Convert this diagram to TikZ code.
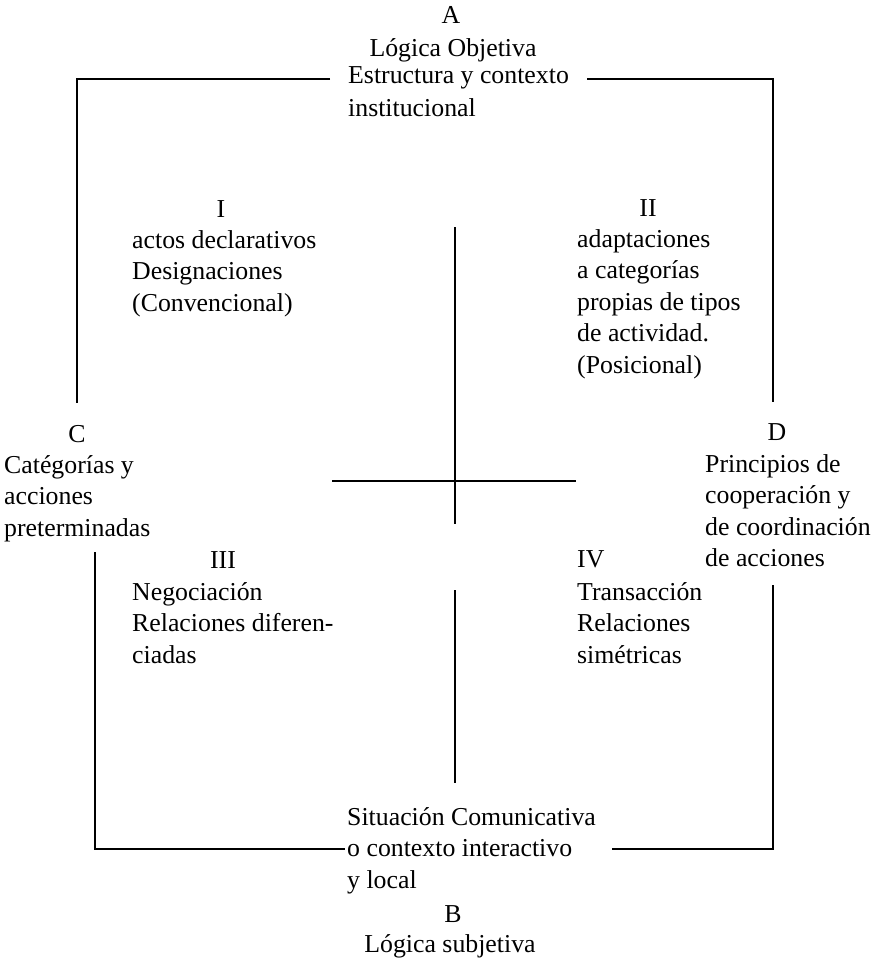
\documentclass[tikz,border=0pt]{standalone}
\usepackage{fontspec}
\setmainfont{Liberation Serif}
\newcommand{\myblk}[1]{\begin{tabular}[t]{@{}l@{}}#1\end{tabular}}
\begin{document}
\begin{tikzpicture}[x=1pt,y=-1pt,
  txt/.style={inner sep=0pt,font=\fontsize{25.8}{31.6}\selectfont},
  ltxt/.style={txt,anchor=base west},
  ctxt/.style={txt,anchor=base},
  ln/.style={line width=1.3pt,black}]
\useasboundingbox (0,0) rectangle (895,960);
% top (A)
\node[ctxt] (Ahead) at (451,24) {A};
\node[ctxt] (Atitle) at (453,57) {Lógica Objetiva};
\node[ltxt] (Atext1) at (348,84) {Estructura y contexto};
\node[ltxt] (Atext2) at (348,117) {institucional};
% quadrant I
\node[ctxt] (Inum) at (221,217) {I};
\node[ltxt] (Itext) at (132,248) {\myblk{actos declarativos\\Designaciones\\(Convencional)}};
% quadrant II
\node[ctxt] (IInum) at (648,216) {II};
\node[ltxt] (IItext) at (577,247) {\myblk{adaptaciones\\a categorías\\propias de tipos\\de actividad.\\(Posicional)}};
% C
\node[ctxt] (Chead) at (77,442) {C};
\node[ltxt] (Ctext) at (4,473) {\myblk{Catégorías y\\acciones\\preterminadas}};
% D
\node[ctxt] (Dhead) at (777,440) {D};
\node[ltxt] (Dtext) at (705,472) {\myblk{Principios de\\cooperación y\\de coordinación\\de acciones}};
% III
\node[ctxt] (IIInum) at (223,568) {III};
\node[ltxt] (IIItext) at (132,600) {\myblk{Negociación\\Relaciones diferen-\\ciadas}};
% IV
\node[ltxt] (IVnum) at (577,567) {IV};
\node[ltxt] (IVtext) at (577,600) {\myblk{Transacción\\Relaciones\\simétricas}};
% bottom (B)
\node[ltxt] (Btext) at (347,825) {\myblk{Situación Comunicativa\\o contexto interactivo\\y local}};
\node[ctxt] (Bhead) at (453,922) {B};
\node[ctxt] (Btitle) at (450,952) {Lógica subjetiva};
% line end points
\coordinate (tl1) at (330,79);
\coordinate (tlc) at (77,79);
\coordinate (tlb) at (77,403);
\coordinate (tr1) at (587,79);
\coordinate (trc) at (773,79);
\coordinate (trb) at (773,402);
\coordinate (cvt) at (455,227);
\coordinate (cvb) at (455,524);
\coordinate (chl) at (332,481);
\coordinate (chr) at (576,481);
\coordinate (lvt) at (455,590);
\coordinate (lvb) at (455,783);
\coordinate (blt) at (95,552);
\coordinate (blc) at (95,849);
\coordinate (bl1) at (345,849);
\coordinate (brt) at (773,585);
\coordinate (brc) at (773,849);
\coordinate (br1) at (612,849);
% lines
\draw[ln] (tl1) -- (tlc) -- (tlb);
\draw[ln] (tr1) -- (trc) -- (trb);
\draw[ln] (cvt) -- (cvb);
\draw[ln] (chl) -- (chr);
\draw[ln] (lvt) -- (lvb);
\draw[ln] (blt) -- (blc) -- (bl1);
\draw[ln] (brt) -- (brc) -- (br1);
\end{tikzpicture}
\end{document}
